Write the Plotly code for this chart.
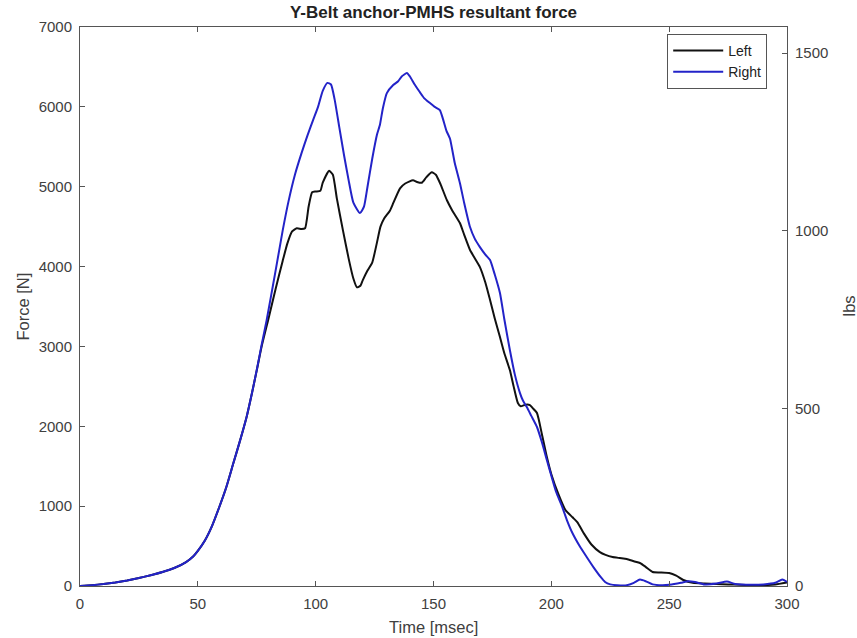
import plotly.graph_objects as go

N_PER_LBF = 4.448222

left_t = [0, 5, 10, 15, 20, 25, 30, 35, 40, 45, 48, 50, 53, 56, 59, 62, 65, 68, 70.8, 73, 75, 77,
          80, 83, 86, 88, 90, 92, 94, 95.5, 97, 98.5, 100, 102, 103, 105.7, 107.3, 109, 111.6,
          114, 116, 117.5, 119, 120, 122, 124, 126, 127.5, 129, 131.5, 133, 135.8, 138, 141.3,
          143, 145, 147, 149.3, 151, 153, 155.7, 158, 161.2, 163, 165.5, 167, 169.7, 172, 174,
          176, 178.2, 180, 182.4, 184, 185.8, 187, 189, 190.9, 192, 193.9, 196, 198.1, 200, 203,
          206, 209, 211, 214, 217, 220.6, 223, 226, 229, 232, 235, 237.6, 240, 243, 246, 250,
          253, 256, 260, 265, 270, 275, 280, 285, 290, 295, 300]
left_f = [0, 10, 25, 45, 70, 100, 135, 175, 225, 300, 370, 440, 570, 750, 980, 1230, 1530, 1830,
          2130, 2420, 2700, 2990, 3350, 3720, 4070, 4290, 4440, 4480, 4470, 4480, 4750, 4930,
          4940, 4950, 5050, 5200, 5150, 4850, 4450, 4100, 3850, 3740, 3760, 3830, 3950, 4050,
          4300, 4500, 4600, 4700, 4800, 4980, 5040, 5080, 5060, 5050, 5120, 5180, 5150, 5030,
          4830, 4700, 4545, 4400, 4207, 4130, 3994, 3800, 3581, 3350, 3117, 2920, 2704, 2500,
          2291, 2250, 2270, 2266, 2230, 2166, 1900, 1615, 1400, 1150, 950, 860, 800, 650, 520,
          425, 390, 363, 350, 338, 310, 288, 240, 175, 170, 163, 130, 75, 40, 30, 25, 20, 15, 10,
          10, 20, 45]

right_t = [0, 5, 10, 15, 20, 25, 30, 35, 40, 45, 48, 50, 53, 56, 59, 62, 65, 68, 70.8, 73, 75,
           77, 79.2, 81, 82.7, 84.5, 86, 88.5, 91.2, 94, 96.5, 98.9, 101, 103, 105, 106.5, 108,
           110, 112, 114, 116, 118.8, 120.5, 122, 124, 126, 127.3, 128.5, 130.2, 132.9, 135,
           136.5, 138.7, 140, 142, 144.2, 146, 148.5, 150.5, 152.7, 154, 155.5, 157, 159, 161.2,
           163, 165.5, 167.5, 169.7, 172, 174, 176, 178.2, 180, 182.4, 184.5, 186.7, 188, 189.6,
           191.5, 193.9, 196, 198.1, 200, 202, 204.5, 206.6, 209, 212, 215, 218, 221, 222.8, 225,
           228, 232, 235, 237.6, 240, 243, 247, 250, 255, 258, 261, 265, 270, 274.5, 278, 285,
           290, 295, 298, 300]
right_f = [0, 10, 25, 45, 70, 100, 135, 175, 225, 300, 370, 440, 570, 750, 980, 1230, 1530, 1830,
           2130, 2420, 2704, 3010, 3330, 3620, 3900, 4200, 4450, 4820, 5150, 5420, 5640, 5834,
           6000, 6200, 6300, 6280, 6100, 5750, 5400, 5080, 4800, 4670, 4750, 5000, 5350, 5650,
           5780, 5980, 6172, 6273, 6320, 6380, 6423, 6380, 6280, 6185, 6110, 6047, 6000, 5960,
           5850, 5700, 5600, 5300, 5046, 4800, 4495, 4350, 4244, 4150, 4082, 3900, 3668, 3350,
           2955, 2650, 2416, 2320, 2241, 2130, 1991, 1800, 1578, 1380, 1180, 1000, 826, 660, 500,
           363, 230, 110, 50, 20, 10, 10, 40, 80, 60, 20, 10, 15, 40, 60, 50, 20, 30, 55, 25, 15,
           20, 40, 80, 50]

x_ticks = [0, 50, 100, 150, 200, 250, 300]
y_ticks = [0, 1000, 2000, 3000, 4000, 5000, 6000, 7000]
lbs_ticks = [0, 500, 1000, 1500]

FONT = "Liberation Sans, Arial, Helvetica, sans-serif"
TXT = "#404040"
AX = "#555555"

fig = go.Figure()
fig.add_trace(go.Scatter(x=left_t, y=left_f, mode="lines", name="Left",
                         line=dict(color="#111111", width=2, shape="spline", smoothing=0.5)))
fig.add_trace(go.Scatter(x=right_t, y=right_f, mode="lines", name="Right",
                         line=dict(color="#2323c8", width=2, shape="spline", smoothing=0.5)))
fig.add_trace(go.Scatter(x=[0, 300], y=[0, 0], yaxis="y2", mode="lines", showlegend=False,
                         hoverinfo="skip", opacity=0, line=dict(width=0)))

fig.update_layout(
    width=857, height=638,
    margin=dict(l=80, r=70, t=27, b=52),
    paper_bgcolor="white", plot_bgcolor="white",
    font=dict(family=FONT, color=TXT, size=15),
    title=dict(text="<b>Y-Belt anchor-PMHS resultant force</b>", x=(80 + 787) / 2 / 857,
               xanchor="center", y=1 - 12 / 638, yanchor="middle", yref="container",
               font=dict(size=17, color="#222222", family=FONT)),
    xaxis=dict(range=[0, 300], tickvals=x_ticks, ticks="inside", ticklen=5, tickcolor=AX,
               showline=True, linecolor=AX, linewidth=1, mirror="ticks", showgrid=False,
               zeroline=False, tickfont=dict(size=15, color=TXT), ticklabelstandoff=4),
    yaxis=dict(range=[0, 7000], tickvals=y_ticks, ticks="inside", ticklen=5, tickcolor=AX,
               showline=True, linecolor=AX, linewidth=1, showgrid=False, zeroline=False,
               tickfont=dict(size=15, color=TXT), ticklabelstandoff=4),
    yaxis2=dict(range=[0, 7000 / N_PER_LBF], tickvals=lbs_ticks, overlaying="y", side="right",
                ticks="inside", ticklen=5, tickcolor=AX, showline=True, linecolor=AX,
                linewidth=1, showgrid=False, zeroline=False,
                tickfont=dict(size=15, color=TXT), ticklabelstandoff=4),
    legend=dict(x=0.972, xanchor="right", y=0.9875, yanchor="top", bgcolor="white",
                bordercolor=AX, borderwidth=1, font=dict(size=14, color="#222222"),
                tracegroupgap=0, itemwidth=50),
    showlegend=True,
    annotations=[
        dict(text="Force [N]", xref="paper", yref="paper", x=0, y=0.5, xshift=-58,
             xanchor="center", yanchor="middle", textangle=-90, showarrow=False,
             font=dict(size=16.5, color=TXT)),
        dict(text="lbs", xref="paper", yref="paper", x=1, y=0.5, xshift=61,
             xanchor="center", yanchor="middle", textangle=-90, showarrow=False,
             font=dict(size=16.5, color=TXT)),
        dict(text="Time [msec]", xref="paper", yref="paper", x=0.5, y=0, yshift=-41,
             xanchor="center", yanchor="middle", showarrow=False,
             font=dict(size=16.5, color=TXT)),
    ],
)

fig.write_html("out.html")
